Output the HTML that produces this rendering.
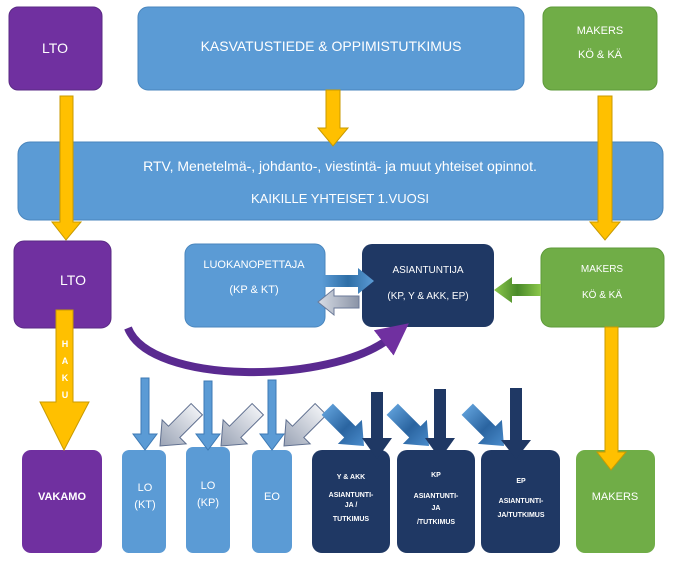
<!DOCTYPE html><html><head><meta charset="utf-8"><style>body{margin:0;background:#fff}svg{display:block}text{font-family:"Liberation Sans",sans-serif;fill:#fff;text-anchor:middle}</style></head><body>
<svg width="678" height="570" viewBox="0 0 678 570" xmlns="http://www.w3.org/2000/svg">
<defs>
<linearGradient id="gb" x1="0" x2="1"><stop offset="0" stop-color="#5b9bd5"/><stop offset="0.5" stop-color="#2e6ea6"/><stop offset="1" stop-color="#5b9bd5"/></linearGradient>
<linearGradient id="gbv" x1="0" y1="0" x2="0" y2="1"><stop offset="0" stop-color="#5b9bd5"/><stop offset="0.5" stop-color="#2a64a0"/><stop offset="1" stop-color="#4a8ccc"/></linearGradient>
<linearGradient id="gg" x1="0" x2="1"><stop offset="0" stop-color="#d8dde6"/><stop offset="1" stop-color="#8a93a6"/></linearGradient>
<linearGradient id="ggv" x1="0" y1="0" x2="0" y2="1"><stop offset="0" stop-color="#eef0f4"/><stop offset="1" stop-color="#9aa3b5"/></linearGradient>
<linearGradient id="gn" x1="0" x2="1"><stop offset="0" stop-color="#8cc84b"/><stop offset="0.5" stop-color="#4a8a2a"/><stop offset="1" stop-color="#8cc84b"/></linearGradient>
<marker id="ph" markerWidth="4" markerHeight="4" refX="1" refY="2" orient="auto"><path d="M0,0 L4,2 L0,4z" fill="#7030a0"/></marker>
<path id="da" d="M-8,-52 H8 V-20 H17 L0,0 L-17,-20 H-8z"/>
</defs>
<rect x="9" y="7" width="93" height="83" rx="9" fill="#7030a0" stroke="#5a2a84"/>
<text x="55" y="53" font-size="14">LTO</text>
<rect x="138" y="7" width="386" height="83" rx="10" fill="#5b9bd5" stroke="#4a86bd"/>
<text x="331" y="51" font-size="14">KASVATUSTIEDE &amp; OPPIMISTUTKIMUS</text>
<rect x="543" y="7" width="114" height="83" rx="9" fill="#70ad47" stroke="#5e9a3a"/>
<text x="600" y="34" font-size="11">MAKERS</text><text x="600" y="58" font-size="11">KÖ &amp; KÄ</text>
<rect x="18" y="142" width="645" height="78" rx="12" fill="#5b9bd5" stroke="#4a86bd"/>
<text x="340" y="171" font-size="14">RTV, Menetelmä-, johdanto-, viestintä- ja muut yhteiset opinnot.</text>
<text x="340" y="203" font-size="13">KAIKILLE YHTEISET 1.VUOSI</text>
<path d="M60,96 H73 V222 H81 L66,240 L52,222 H60z" fill="#ffc000" stroke="#c89a00"/>
<path d="M326,90 H340 V128 H348 L333,146 L318,128 H326z" fill="#ffc000" stroke="#c89a00"/>
<path d="M598,96 H612 V222 H620 L605,240 L590,222 H598z" fill="#ffc000" stroke="#c89a00"/>
<rect x="14" y="241" width="97" height="87" rx="10" fill="#7030a0" stroke="#5a2a84"/>
<text x="73" y="285" font-size="14">LTO</text>
<rect x="185" y="244" width="140" height="83" rx="10" fill="#5b9bd5" stroke="#4a86bd"/>
<text x="254" y="268" font-size="11">LUOKANOPETTAJA</text><text x="254" y="293" font-size="11">(KP &amp; KT)</text>
<rect x="362" y="244" width="132" height="83" rx="10" fill="#1f3864"/>
<text x="428" y="273" font-size="10">ASIANTUNTIJA</text><text x="428" y="299" font-size="10">(KP, Y &amp; AKK, EP)</text>
<rect x="541" y="248" width="123" height="79" rx="10" fill="#70ad47" stroke="#5e9a3a"/>
<text x="602" y="272" font-size="10">MAKERS</text><text x="602" y="298" font-size="10">KÖ &amp; KÄ</text>
<path d="M322,275 H358 V268 L374,281 L358,294 V287 H322z" fill="url(#gb)"/>
<path d="M359,296 H334 V289 L318,302 L334,315 V308 H359z" fill="url(#gg)" stroke="#6b7a99"/>
<path d="M541,284 H512 V277 L494,290 L512,303 V296 H541z" fill="url(#gn)"/>
<path d="M128,328 C150,385 330,385 390,338" fill="none" stroke="#5a2a90" stroke-width="8" marker-end="url(#ph)"/>
<rect x="22" y="450" width="80" height="103" rx="9" fill="#7030a0"/>
<text x="62" y="500" font-size="11" font-weight="bold">VAKAMO</text>
<rect x="122" y="450" width="44" height="103" rx="7" fill="#5b9bd5"/>
<text x="145" y="491" font-size="11">LO</text><text x="145" y="508" font-size="11">(KT)</text>
<rect x="186" y="447" width="44" height="106" rx="7" fill="#5b9bd5"/>
<text x="208" y="489" font-size="11">LO</text><text x="208" y="506" font-size="11">(KP)</text>
<rect x="252" y="450" width="40" height="103" rx="7" fill="#5b9bd5"/>
<text x="272" y="500" font-size="11">EO</text>
<rect x="312" y="450" width="78" height="103" rx="10" fill="#1f3864"/>
<text x="351" y="479" font-size="7" font-weight="bold">Y &amp; AKK</text><text x="351" y="497" font-size="7" font-weight="bold">ASIANTUNTI-</text><text x="351" y="507" font-size="7" font-weight="bold">JA /</text><text x="351" y="521" font-size="7" font-weight="bold">TUTKIMUS</text>
<rect x="397" y="450" width="78" height="103" rx="10" fill="#1f3864"/>
<text x="436" y="477" font-size="7" font-weight="bold">KP</text><text x="436" y="498" font-size="7" font-weight="bold">ASIANTUNTI-</text><text x="436" y="510" font-size="7" font-weight="bold">JA</text><text x="436" y="524" font-size="7" font-weight="bold">/TUTKIMUS</text>
<rect x="481" y="450" width="79" height="103" rx="10" fill="#1f3864"/>
<text x="521" y="483" font-size="7" font-weight="bold">EP</text><text x="521" y="503" font-size="7" font-weight="bold">ASIANTUNTI-</text><text x="521" y="517" font-size="7" font-weight="bold">JA/TUTKIMUS</text>
<rect x="576" y="450" width="79" height="103" rx="9" fill="#70ad47"/>
<text x="615" y="500" font-size="11">MAKERS</text>
<path d="M56,310 H73 V402 H89 L64,450 L40,402 H56z" fill="#ffc000" stroke="#c89a00"/>
<text x="65" y="347" font-size="9" font-weight="bold">H</text><text x="65" y="364" font-size="9" font-weight="bold">A</text><text x="65" y="381" font-size="9" font-weight="bold">K</text><text x="65" y="398" font-size="9" font-weight="bold">U</text>
<path d="M605,327 H618 V452 H626 L611,470 L597,452 H605z" fill="#ffc000" stroke="#c89a00"/>
<g fill="url(#ggv)" stroke="#5f6f8f">
<use href="#da" transform="translate(160,446) rotate(45)"/>
<use href="#da" transform="translate(221,446) rotate(45)"/>
<use href="#da" transform="translate(284,446) rotate(45)"/>
</g>
<g fill="#5b9bd5" stroke="#3d7ab5">
<path d="M141,378 H149 V434 H157 L145,450 L133,434 H141z"/>
<path d="M204,381 H212 V434 H220 L208,450 L196,434 H204z"/>
<path d="M268,380 H276 V434 H284 L272,450 L260,434 H268z"/>
</g>
<g fill="url(#gbv)">
<use href="#da" transform="translate(364,446) rotate(-45)"/>
<use href="#da" transform="translate(429,446) rotate(-45)"/>
<use href="#da" transform="translate(504,446) rotate(-45)"/>
</g>
<g fill="#1f3864">
<path d="M371,392 H383 V438 H392 L377,459 L362,438 H371z"/>
<path d="M434,389 H446 V438 H455 L440,459 L425,438 H434z"/>
<path d="M510,388 H522 V440 H531 L516,459 L501,440 H510z"/>
</g>
</svg></body></html>
